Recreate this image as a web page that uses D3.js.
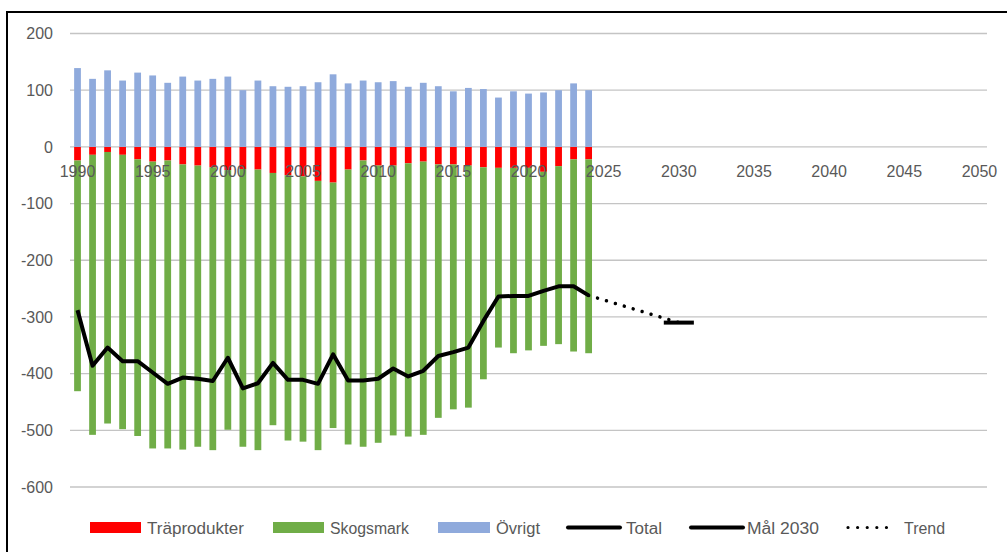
<!doctype html>
<html>
<head>
<meta charset="utf-8">
<title>Nettoupptag LULUCF</title>
<script src="https://d3js.org/d3.v7.min.js"></script>
<style>
  body { margin: 0; background: #fff; }
  text { font-family: "Liberation Sans", Arial, sans-serif; fill: #595959; }
</style>
</head>
<body>
<svg id="chart" width="1007" height="552"></svg>
<script>
// data (Mt CO2-ekv style units)
const years = d3.range(1990, 2025);
const allYears = d3.range(1990, 2051);
const tickYears = [1990, 1995, 2000, 2005, 2010, 2015, 2020, 2025, 2030, 2035, 2040, 2045, 2050];
const yTicks = [200, 100, 0, -100, -200, -300, -400, -500, -600];

const trapro = [-24, -14, -9, -14, -22, -26, -24, -31, -33, -36, -41, -39, -40, -46, -50, -52, -60, -63,
  -40, -24, -33, -33, -29, -26, -31, -31, -33, -36, -37, -37, -37, -44, -34, -22, -22];
const skog = [-407, -494, -479, -484, -488, -506, -508, -503, -496, -499, -458, -490, -495, -445, -468, -468, -475, -433,
  -485, -505, -489, -476, -482, -482, -447, -432, -427, -374, -317, -327, -322, -307, -314, -339, -342];
const ovrigt = [139, 120, 135, 117, 131, 126, 113, 124, 117, 120, 124, 100, 117, 107, 106, 107, 114, 128,
  112, 117, 114, 116, 106, 113, 107, 98, 104, 102, 87, 98, 94, 96, 100, 112, 100];
const total = [-288, -386, -354, -378, -378, -398, -418, -407, -409, -413,
  -372, -426, -417, -381, -411, -411, -418, -366, -412, -412,
  -409, -391, -405, -395, -369, -362, -354, -307, -264, -263,
  -263, -254, -246, -246, -262];
const trendYears = [2024, 2030];
const trend = [-262, -310];
const malYears = [2029, 2030, 2031];
const mal = [-310, -310, -310];

const keys = ["Träprodukter", "Skogsmark", "Övrigt"];
const colors = { "Träprodukter": "#ff0000", "Skogsmark": "#70ad47", "Övrigt": "#8faadc" };

const rows = years.map((yr, i) => ({ year: yr, "Träprodukter": trapro[i], "Skogsmark": skog[i], "Övrigt": ovrigt[i] }));

const svg = d3.select("#chart");

const x = d3.scaleBand().domain(allYears).range([70, 987]).paddingInner(0.55).paddingOuter(0.275);
const y = d3.scaleLinear().domain([-600, 200]).range([487, 33.5]);
const cx = d => x(d) + x.bandwidth() / 2;

// frame (only top and left edges show)
svg.append("path")
  .attr("d", "M7,552 L7,12 L1007,12")
  .attr("fill", "none").attr("stroke", "#000").attr("stroke-width", 2);

// gridlines
svg.append("g").selectAll("line").data(yTicks).join("line")
  .attr("x1", 70).attr("x2", 987)
  .attr("y1", d => y(d)).attr("y2", d => y(d))
  .attr("stroke", "#c4c4c4").attr("stroke-width", 1.3);

// y labels
svg.append("g").selectAll("text").data(yTicks).join("text")
  .attr("x", 53).attr("y", d => y(d) + 5.7)
  .attr("text-anchor", "end").attr("font-size", 16)
  .text(d => d);

// stacked bars
const series = d3.stack().keys(keys).offset(d3.stackOffsetDiverging)(rows);
svg.append("g").selectAll("g").data(series).join("g")
  .attr("fill", s => colors[s.key])
  .selectAll("rect").data(s => s).join("rect")
  .attr("x", d => x(d.data.year))
  .attr("width", x.bandwidth())
  .attr("y", d => y(Math.max(d[0], d[1])))
  .attr("height", d => Math.abs(y(d[0]) - y(d[1])));

// x labels (drawn over bars)
svg.append("g").selectAll("text").data(tickYears).join("text")
  .attr("x", d => cx(d)).attr("y", 177)
  .attr("text-anchor", "middle").attr("font-size", 16)
  .text(d => d);

// lines
const line = d3.line().x(d => cx(d[0])).y(d => y(d[1]));

svg.append("path")
  .attr("d", line(years.map((yr, i) => [yr, total[i]])))
  .attr("fill", "none").attr("stroke", "#000").attr("stroke-width", 4)
  .attr("stroke-linejoin", "round");

svg.append("path")
  .attr("d", line(trendYears.map((yr, i) => [yr, trend[i]])))
  .attr("fill", "none").attr("stroke", "#000").attr("stroke-width", 3.5)
  .attr("stroke-linecap", "round").attr("stroke-dasharray", "0.01 9.3");

svg.append("path")
  .attr("d", line(malYears.map((yr, i) => [yr, mal[i]])))
  .attr("fill", "none").attr("stroke", "#000").attr("stroke-width", 4);

// legend
const legend = [
  { name: "Träprodukter", type: "rect", color: "#ff0000", sx: 90, sw: 51, tx: 147, tw: 97 },
  { name: "Skogsmark", type: "rect", color: "#70ad47", sx: 273, sw: 51, tx: 330, tw: 79 },
  { name: "Övrigt", type: "rect", color: "#8faadc", sx: 438, sw: 52, tx: 496, tw: 44 },
  { name: "Total", type: "line", sx: 568, sw: 52, tx: 626, tw: 36 },
  { name: "Mål 2030", type: "line", sx: 691, sw: 52, tx: 747, tw: 72 },
  { name: "Trend", type: "dots", sx: 846, sw: 50, tx: 904, tw: 41 }
];
const lg = svg.append("g").selectAll("g").data(legend).join("g");
lg.filter(d => d.type === "rect").append("rect")
  .attr("x", d => d.sx).attr("y", 522).attr("width", d => d.sw).attr("height", 11)
  .attr("fill", d => d.color);
lg.filter(d => d.type === "line").append("line")
  .attr("x1", d => d.sx).attr("x2", d => d.sx + d.sw)
  .attr("y1", 527.5).attr("y2", 527.5)
  .attr("stroke", "#000").attr("stroke-width", 4).attr("stroke-linecap", "round");
lg.filter(d => d.type === "dots").append("line")
  .attr("x1", d => d.sx + 2).attr("x2", d => d.sx + d.sw)
  .attr("y1", 527.5).attr("y2", 527.5)
  .attr("stroke", "#000").attr("stroke-width", 3.2).attr("stroke-linecap", "round")
  .attr("stroke-dasharray", "0.01 9.6");
lg.append("text")
  .attr("x", d => d.tx).attr("y", 533.5)
  .attr("font-size", 16)
  .attr("textLength", d => d.tw).attr("lengthAdjust", "spacingAndGlyphs")
  .text(d => d.name);
</script>
</body>
</html>
